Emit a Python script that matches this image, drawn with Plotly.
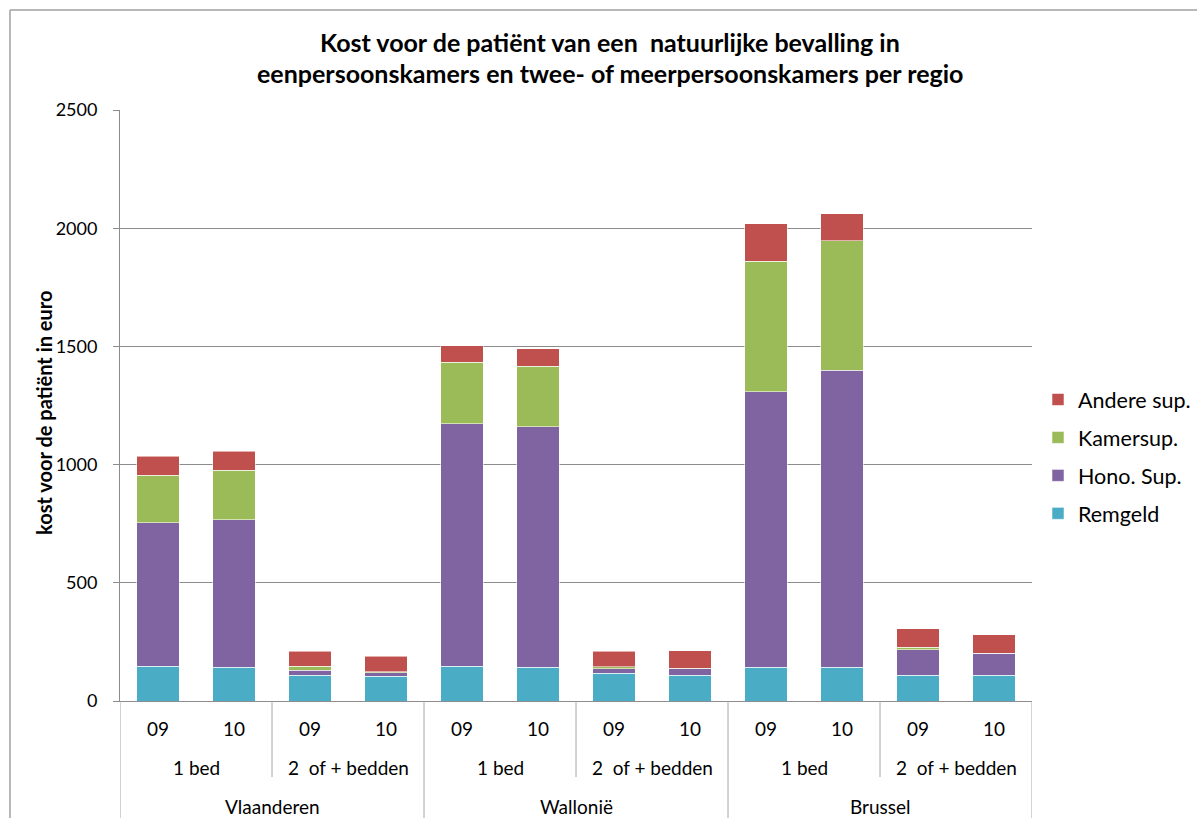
import plotly.graph_objects as go

# ---- data ----
regions = ["Vlaanderen", "Wallonië", "Brussel"]
bed_types = ["1 bed", "2\u00a0 of + bedden"]
years = ["09", "10"]

remgeld = [148, 142, 110, 104, 148, 142, 118, 110, 142, 142, 110, 110]
hono_sup = [606, 624, 21, 16, 1024, 1018, 19, 27, 1166, 1258, 107, 91]
kamer_sup = [202, 211, 17, 3, 261, 257, 7, 1, 553, 546, 11, 1]
andere_sup = [80, 79, 62, 66, 69, 73, 67, 74, 158, 115, 78, 79]

series = [
    ("Remgeld", remgeld, "#4BACC6"),
    ("Hono. Sup.", hono_sup, "#8064A2"),
    ("Kamersup.", kamer_sup, "#9BBB59"),
    ("Andere sup.", andere_sup, "#C0504D"),
]

# category positions
cats = [(r, b, y) for r in regions for b in bed_types for y in years]
xpos = list(range(len(cats)))
year_labels = [c[2] for c in cats]

FONT = "Lato, 'Open Sans', sans-serif"
GRID = "#8C8C8C"
DIV = "#A6A6A6"

fig = go.Figure()
n = len(series)
for i, (name, vals, col) in enumerate(series):
    fig.add_trace(go.Bar(
        x=xpos, y=vals, name=name, legendgroup=name, legendrank=n - i,
        marker=dict(color=col, line=dict(color="rgba(255,255,255,0.55)", width=1)),
        width=0.56,
    ))

# pixel helpers
L, R, T, B = 120, 1032, 110, 701
def py(p):
    return (B - p) / (B - T)
def px(p):
    return (p - L) / (R - L)

annotations = []
shapes = []

# bed-type labels and region labels
nb = len(bed_types) * len(years)
for ri, reg in enumerate(regions):
    for bi, bt in enumerate(bed_types):
        idx = [k for k, c in enumerate(cats) if c[0] == reg and c[1] == bt]
        annotations.append(dict(x=sum(idx) / len(idx), y=py(767), xref="x", yref="paper",
                                text=bt, showarrow=False, yanchor="middle",
                                font=dict(size=19, color="black", family=FONT)))
    idx = [k for k, c in enumerate(cats) if c[0] == reg]
    annotations.append(dict(x=sum(idx) / len(idx), y=py(806), xref="x", yref="paper",
                            text=reg, showarrow=False, yanchor="middle",
                            font=dict(size=19, color="black", family=FONT)))

# divider lines
for k in range(len(cats) + 1):
    xb = k - 0.5
    if k % nb == 0:
        shapes.append(dict(type="line", xref="x", yref="paper", x0=xb, x1=xb,
                           y0=0, y1=py(830), line=dict(color=DIV, width=1)))
    elif k % len(years) == 0:
        shapes.append(dict(type="line", xref="x", yref="paper", x0=xb, x1=xb,
                           y0=0, y1=py(777), line=dict(color=DIV, width=1)))

# outer chart frame (top and left edges)
shapes.append(dict(type="line", xref="paper", yref="paper", x0=px(10), x1=px(1200),
                   y0=py(10), y1=py(10), line=dict(color="#A0A0A0", width=1.5)))
shapes.append(dict(type="line", xref="paper", yref="paper", x0=px(10), x1=px(10),
                   y0=py(10), y1=py(830), line=dict(color="#A0A0A0", width=1.5)))

# title
annotations.append(dict(x=px(610), y=py(42), xref="paper", yref="paper",
                        text="<b>Kost voor de patiënt van een\u00a0 natuurlijke bevalling in</b>",
                        showarrow=False, yanchor="middle", xanchor="center",
                        font=dict(size=25, color="black", family=FONT)))
annotations.append(dict(x=px(610), y=py(73), xref="paper", yref="paper",
                        text="<b>eenpersoonskamers en twee- of meerpersoonskamers per regio</b>",
                        showarrow=False, yanchor="middle", xanchor="center",
                        font=dict(size=25, color="black", family=FONT)))
# y axis title
annotations.append(dict(x=px(44), y=py(413), xref="paper", yref="paper",
                        text="<b>kost voor de patiënt in euro</b>", textangle=-90,
                        showarrow=False, xanchor="center", yanchor="middle",
                        font=dict(size=20, color="black", family=FONT)))

fig.update_layout(
    width=1197, height=818,
    margin=dict(l=L, r=1197 - R, t=T, b=818 - B, pad=0, autoexpand=False),
    paper_bgcolor="white", plot_bgcolor="white",
    barmode="stack",
    font=dict(family=FONT, color="black"),
    showlegend=True,
    legend=dict(x=px(1038), y=py(379), xanchor="left", yanchor="top",
                traceorder="grouped", tracegroupgap=7,
                font=dict(size=21.5, color="black", family=FONT),
                bgcolor="rgba(0,0,0,0)", itemwidth=30),
    xaxis=dict(range=[-0.5, len(cats) - 0.5], tickmode="array", tickvals=xpos,
               ticktext=year_labels, showgrid=False, zeroline=False,
               showline=True, linecolor=GRID, linewidth=1, ticks="",
               tickfont=dict(size=19, color="black", family=FONT),
               ticklabelstandoff=11, fixedrange=True, automargin=False),
    yaxis=dict(range=[0, 2500], tickmode="array", tickvals=[0, 500, 1000, 1500, 2000, 2500],
               showgrid=True, gridcolor=GRID, gridwidth=1, zeroline=False,
               showline=True, linecolor=GRID, linewidth=1,
               ticks="outside", ticklen=6, tickcolor=GRID,
               tickfont=dict(size=18, color="black", family=FONT),
               ticklabelstandoff=12, fixedrange=True, automargin=False),
    annotations=annotations, shapes=shapes,
)

fig.write_html("out.html")
